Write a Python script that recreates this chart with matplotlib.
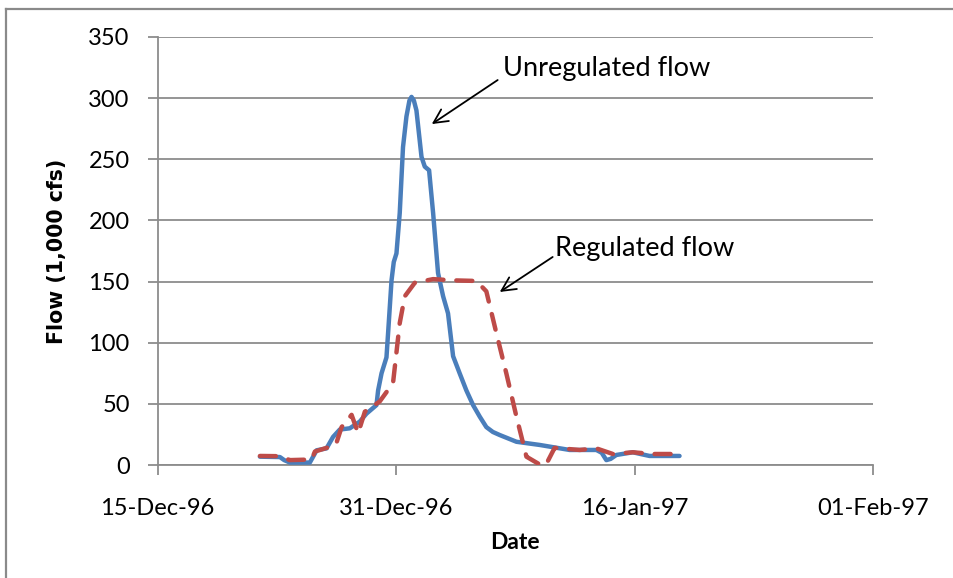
import numpy as np
import pandas as pd
import matplotlib
matplotlib.use("Agg")
import matplotlib.pyplot as plt
import matplotlib.dates as mdates
from matplotlib.lines import Line2D

# flow hydrographs, days counted from 15-Dec-96, flow in 1,000 cfs
start = pd.Timestamp("1996-12-15")

unreg_day = [6.87, 8.21, 8.50, 8.88, 10.22, 10.45, 10.67, 11.34, 11.78, 12.23,
             12.90, 13.57, 14.02, 14.69, 14.80, 15.03, 15.36, 15.47, 15.70, 15.85,
             16.03, 16.25, 16.47, 16.70, 16.90, 17.04, 17.20, 17.37, 17.71, 17.93,
             18.22, 18.49, 18.82, 19.16, 19.49, 19.83, 20.27, 20.72, 21.17, 21.62,
             22.06, 22.50, 22.96, 24.08, 25.64, 27.65, 29.44, 29.80, 30.11, 30.40,
             30.78, 31.89, 32.40, 33.01, 35.02]
unreg_flow = [6.8, 6.5, 4, 2, 2, 7, 12, 13.6, 23, 29,
              30, 35.5, 42, 49, 61, 75, 88, 108, 151, 166,
              173, 206, 260, 285, 298, 301, 298, 290, 252, 244,
              241, 206, 157, 138, 124, 89, 75, 61, 49, 39.5,
              31, 27, 24.5, 19, 16.4, 12.3, 12.3, 10, 4, 5,
              8.2, 10.4, 9, 7.4, 7.4]

reg_day = [6.87, 8.21, 8.88, 10.34, 10.56, 11.96, 12.35, 13.02, 13.46, 13.91,
           14.91, 15.80, 16.25, 16.59, 17.26, 18.49, 19.83, 21.39, 22.06, 22.73,
           23.40, 24.08, 24.75, 25.70, 26.05, 26.64, 28.32, 29.44, 30.55, 31.89,
           33.23, 34.89]
reg_flow = [7.4, 7.2, 4, 4.5, 11, 16.4, 31, 41, 26, 43.6,
            52, 67, 116, 138, 149, 152, 151, 150.5, 142, 108,
            75, 39.5, 6.8, 0, 0, 14, 12.3, 13.6, 9, 10.4,
            9, 9]

unreg_t = start + pd.to_timedelta(unreg_day, unit="D")
reg_t = start + pd.to_timedelta(reg_day, unit="D")

xticks = ["1996-12-15", "1996-12-31", "1997-01-16", "1997-02-01"]
yticks = [0, 50, 100, 150, 200, 250, 300, 350]


def day(d):
    return start + pd.Timedelta(days=d)


plt.rcParams['font.family'] = ['Lato', 'DejaVu Sans']

fig = plt.figure(figsize=(9.54, 5.78), dpi=100)
ax = fig.add_axes([0.1651, 0.1955, 0.7500, 0.7405])

ax.plot(unreg_t, unreg_flow, color="#4a7ebb", lw=3.2, solid_joinstyle="round",
        solid_capstyle="round", zorder=3)
ax.plot(reg_t, reg_flow, color="#be4b48", lw=3.2, dashes=(3.6, 2.9),
        dash_capstyle="round", dash_joinstyle="round", zorder=4)

ax.set_xlim(pd.Timestamp(xticks[0]), pd.Timestamp(xticks[-1]))
ax.set_ylim(0, 350)
ax.set_xticks([pd.Timestamp(t) for t in xticks])
ax.xaxis.set_major_formatter(mdates.DateFormatter("%d-%b-%y"))
ax.set_yticks(yticks)

ax.grid(axis="y", color="#8c8c8c", lw=1.3)
ax.set_axisbelow(True)
for s in ["top", "right"]:
    ax.spines[s].set_visible(False)
for s in ["left", "bottom"]:
    ax.spines[s].set_color("#8c8c8c")
    ax.spines[s].set_linewidth(1.3)
ax.tick_params(axis="both", direction="out", length=7, width=1.3, color="#8c8c8c",
               labelsize=17)
ax.tick_params(axis="x", pad=17)
ax.tick_params(axis="y", pad=13)

ax.set_xlabel("Date", fontsize=16.5, fontweight="bold", va="center")
ax.xaxis.set_label_coords(0.5, -0.182)
ax.set_ylabel("Flow (1,000 cfs)", fontsize=14.8, fontweight="bold",
              family="DejaVu Sans", rotation_mode="default", va="center",
              ha="center")
ax.yaxis.set_label_coords(-0.141, 0.5)

# arrow labels
arrow = dict(arrowstyle="->,head_length=1.0,head_width=0.5", color="black",
             lw=1.3, shrinkA=0, shrinkB=0)
ax.annotate("", xy=(day(18.40), 278.8), xytext=(day(22.82), 314.8),
            arrowprops=arrow)
ax.text(day(23.15), 324.6, "Unregulated flow", fontsize=19.5, va="center", ha="left")
ax.annotate("", xy=(day(22.96), 141.5), xytext=(day(26.51), 170.1),
            arrowprops=arrow)
ax.text(day(26.64), 177.4, "Regulated flow", fontsize=19.5, va="center", ha="left")

# thin frame on left and top edge
fig.add_artist(Line2D([0.0068, 0.0068], [0, 1 - 9 / 578], transform=fig.transFigure,
                      color="#8a8a8a", lw=1.6))
fig.add_artist(Line2D([0.0068, 0.998], [1 - 9 / 578, 1 - 9 / 578],
                      transform=fig.transFigure, color="#8a8a8a", lw=1.6))

fig.savefig("out.png", dpi=100)
